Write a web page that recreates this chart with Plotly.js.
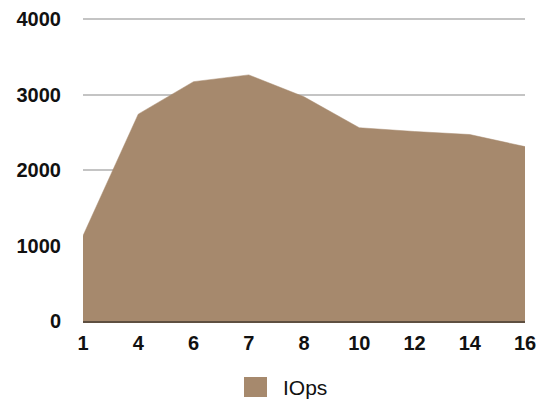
<!DOCTYPE html>
<html>
<head>
<meta charset="utf-8">
<script src="https://cdn.plot.ly/plotly-3.0.1.min.js"></script>
<style>
  html, body { margin: 0; padding: 0; background: #ffffff; }
  #chart { width: 539px; height: 399px; }
</style>
</head>
<body>
<div id="chart"></div>
<script>
// Thread counts along the x axis and measured I/O operations per second
const threads = ['1', '4', '6', '7', '8', '10', '12', '14', '16'];
const iops = [1130, 2740, 3170, 3260, 2970, 2560, 2510, 2470, 2310];
const seriesName = 'IOps';
const yTicks = [0, 1000, 2000, 3000, 4000];

const fillColor = '#a6896d';
const tickFont = { family: 'Liberation Sans, Arial, sans-serif', size: 20, color: '#111111', weight: 'bold' };

// plot box in pixels, used to place the hand-drawn legend
const plotLeft = 83, plotRight = 525, plotTop = 16, plotBottom = 321;
const px = (x) => (x - plotLeft) / (plotRight - plotLeft);
const py = (y) => (plotBottom - y) / (plotBottom - plotTop);

const area = {
  type: 'scatter',
  mode: 'lines',
  x: threads,
  y: iops,
  name: seriesName,
  fill: 'tozeroy',
  fillcolor: fillColor,
  line: { color: fillColor, width: 0.5 },
  showlegend: false,
  hoverinfo: 'x+y'
};

const layout = {
  width: 539,
  height: 399,
  margin: { l: plotLeft, r: 539 - plotRight, t: plotTop, b: 399 - plotBottom },
  paper_bgcolor: '#ffffff',
  plot_bgcolor: '#ffffff',
  showlegend: false,
  xaxis: {
    type: 'category',
    range: [0, threads.length - 1],
    showgrid: false,
    zeroline: false,
    showline: true,
    linecolor: '#5e4f40',
    linewidth: 1.5,
    ticks: '',
    tickfont: tickFont,
    ticklabelstandoff: 3
  },
  yaxis: {
    range: [0, 4040],
    tickvals: yTicks,
    ticktext: yTicks.map(String),
    showgrid: true,
    gridcolor: '#c4c4c4',
    gridwidth: 2,
    zeroline: false,
    showline: false,
    ticks: '',
    tickfont: tickFont,
    ticklabelstandoff: 21
  },
  shapes: [
    {
      type: 'rect', xref: 'paper', yref: 'paper',
      x0: px(244), x1: px(267),
      y0: py(397), y1: py(377),
      fillcolor: fillColor, line: { width: 0 }
    }
  ],
  annotations: [
    {
      xref: 'paper', yref: 'paper',
      x: px(281), y: py(387),
      xanchor: 'left', yanchor: 'middle',
      text: seriesName, showarrow: false,
      font: { family: 'Liberation Sans, Arial, sans-serif', size: 21, color: '#111111' }
    }
  ]
};

Plotly.newPlot('chart', [area], layout, { staticPlot: true, displayModeBar: false });
</script>
</body>
</html>
